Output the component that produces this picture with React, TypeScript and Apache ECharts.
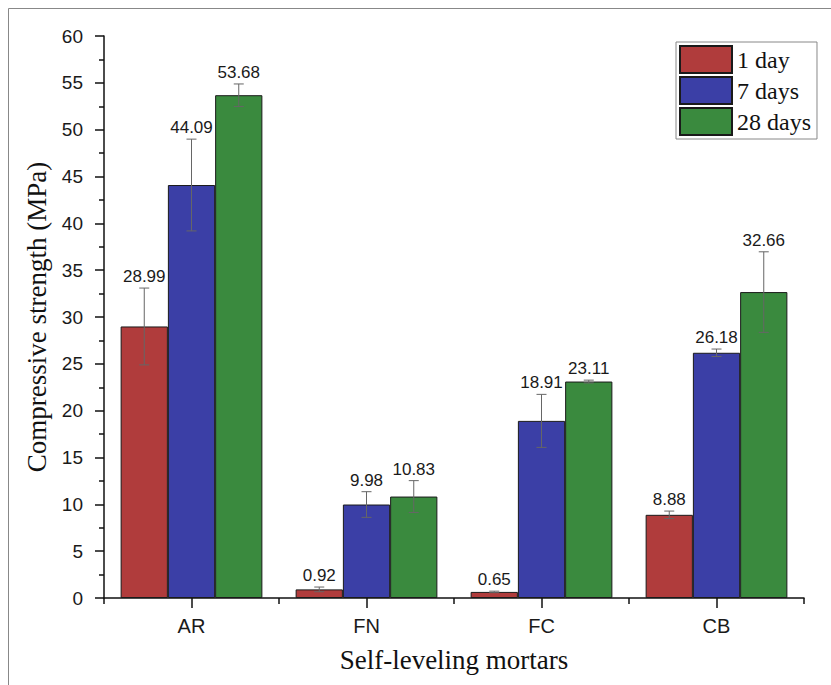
import React, { useEffect, useRef } from "react";
import * as echarts from "echarts";

const categories = ["AR", "FN", "FC", "CB"];
const seriesNames = ["1 day", "7 days", "28 days"];
const day1 = [28.99, 0.92, 0.65, 8.88];
const day7 = [44.09, 9.98, 18.91, 26.18];
const day28 = [53.68, 10.83, 23.11, 32.66];
const err1 = [4.1, 0.25, 0.08, 0.4];
const err7 = [4.9, 1.37, 2.83, 0.4];
const err28 = [1.2, 1.7, 0.15, 4.3];
const yTicks = [0, 5, 10, 15, 20, 25, 30, 35, 40, 45, 50, 55, 60];

const colors = ["#b03c3c", "#3b3fa6", "#3a8a3e"];
const values = [day1, day7, day28];
const errors = [err1, err7, err28];
const BAR_FRAC = 0.27;

export default function App() {
  const ref = useRef<HTMLDivElement>(null);
  useEffect(() => {
    if (!ref.current) return;
    const chart = echarts.init(ref.current, null, { renderer: "svg" });
    const barSeries = values.map((vals, s) => ({
      name: seriesNames[s],
      type: "bar",
      xAxisIndex: 0,
      data: vals,
      barWidth: BAR_FRAC * 100 + "%",
      barGap: "0%",
      itemStyle: { color: colors[s], borderColor: "#1a1a1a", borderWidth: 1 },
      z: 2,
    }));
    const errSeries = values.map((vals, s) => ({
      type: "custom",
      xAxisIndex: 0,
      z: 5,
      encode: { x: 0, y: 1 },
      data: categories.map((_, i) => [i, vals[i], errors[s][i]]),
      renderItem: (params: any, api: any) => {
        const ci = api.value(0);
        const v = api.value(1);
        const e = api.value(2);
        const band = api.size([1, 0])[0];
        const off = band * BAR_FRAC * (s - 1);
        const x = api.coord([ci, v])[0] + off;
        const yTop = api.coord([ci, v + e])[1];
        const yBot = api.coord([ci, Math.max(v - e, 0)])[1];
        const ls = { stroke: "#666", lineWidth: 1 };
        return {
          type: "group",
          children: [
            { type: "line", shape: { x1: x, y1: yTop, x2: x, y2: yBot }, style: ls },
            { type: "line", shape: { x1: x - 5, y1: yTop, x2: x + 5, y2: yTop }, style: ls },
            { type: "line", shape: { x1: x - 5, y1: yBot, x2: x + 5, y2: yBot }, style: ls },
            {
              type: "text",
              style: {
                text: v.toFixed(2),
                x: x,
                y: yTop - 3,
                align: "center",
                verticalAlign: "bottom",
                fontSize: 17,
                fontFamily: "Liberation Sans",
                fill: "#1a1a1a",
              },
            },
          ],
        };
      },
    }));
    chart.setOption({
      animation: false,
      backgroundColor: "#ffffff",
      graphic: [
        {
          type: "rect",
          shape: { x: 8.5, y: 8.5, width: 900, height: 900 },
          style: { fill: "none", stroke: "#888", lineWidth: 1 },
          silent: true,
        },
      ],
      grid: { left: 104, right: 27, top: 36, bottom: 87 },
      legend: {
        data: seriesNames,
        icon: "rect",
        orient: "vertical",
        left: 676,
        top: 42,
        itemWidth: 52,
        itemHeight: 27,
        itemGap: 2,
        padding: [3, 6, 3, 3],
        borderColor: "#888",
        borderWidth: 1,
        backgroundColor: "#fff",
        textStyle: { fontFamily: "Liberation Serif", fontSize: 24, color: "#111" },
      },
      xAxis: [
        {
          type: "category",
          data: categories,
          name: "Self-leveling mortars",
          nameLocation: "middle",
          nameGap: 48,
          nameTextStyle: { fontFamily: "Liberation Serif", fontSize: 27, color: "#111" },
          axisLine: { lineStyle: { color: "#111", width: 1.5 } },
          axisTick: { show: true, length: 6, lineStyle: { color: "#111", width: 1.5 } },
          axisLabel: { show: false },
        },
        {
          type: "category",
          data: categories,
          position: "bottom",
          axisLine: { show: false },
          axisTick: { show: true, alignWithLabel: true, length: 10, lineStyle: { color: "#111", width: 1.5 } },
          axisLabel: { fontFamily: "Liberation Sans", fontSize: 20, color: "#1a1a1a", margin: 18 },
        },
      ],
      yAxis: {
        type: "value",
        min: yTicks[0],
        max: yTicks[yTicks.length - 1],
        interval: 5,
        name: "Compressive strength (MPa)",
        nameLocation: "middle",
        nameGap: 50,
        nameTextStyle: { fontFamily: "Liberation Serif", fontSize: 27, color: "#111" },
        axisLine: { show: true, lineStyle: { color: "#111", width: 1.5 } },
        axisTick: { show: true, length: 9, lineStyle: { color: "#111", width: 1.5 } },
        minorTick: { show: true, splitNumber: 2, length: 5, lineStyle: { color: "#111", width: 1.5 } },
        splitLine: { show: false },
        axisLabel: { fontFamily: "Liberation Sans", fontSize: 19, color: "#1a1a1a", margin: 21 },
      },
      series: [...barSeries, ...errSeries],
    });
    return () => chart.dispose();
  }, []);
  return (
    <div
      ref={ref}
      style={{ position: "fixed", left: 0, top: 0, width: 831, height: 685, background: "#fff" }}
    />
  );
}
